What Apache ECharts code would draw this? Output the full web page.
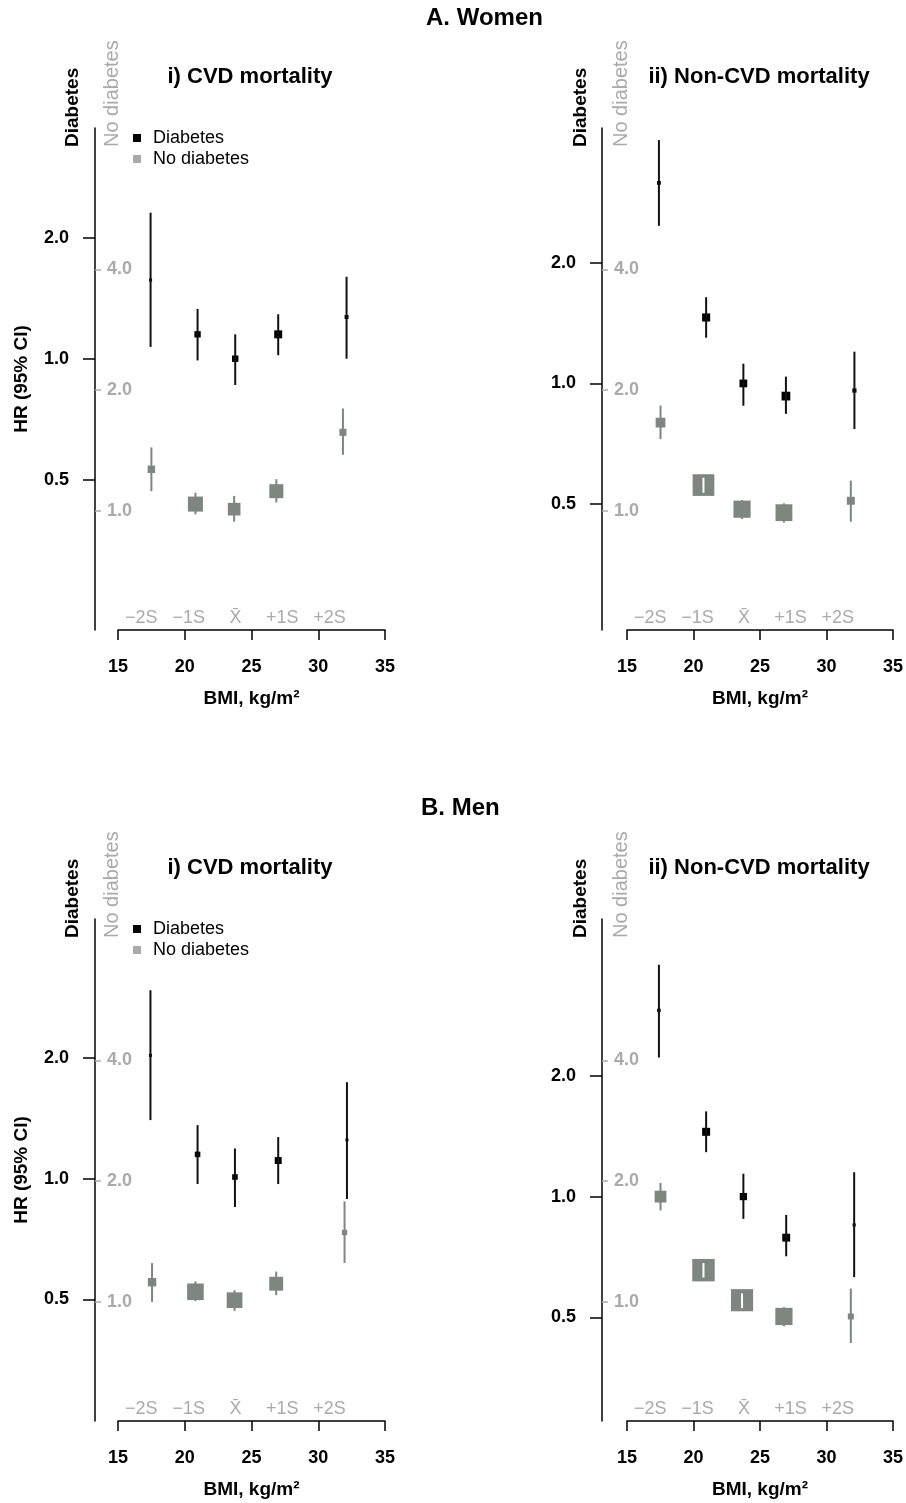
<!DOCTYPE html>
<html>
<head>
<meta charset="utf-8">
<title>BMI and cause-specific mortality by diabetes status</title>
<script src="https://cdn.jsdelivr.net/npm/echarts@6/dist/echarts.min.js"></script>
<style>
  html, body { margin: 0; padding: 0; background: #fff; }
  #chart { width: 906px; height: 1503px; }
</style>
</head>
<body>
<div id="chart"></div>
<script>
// rows: [BMI, HR, lower 95% CI, upper 95% CI]
const womenCvdDiabetes = [[17.44, 1.57, 1.07, 2.31], [20.96, 1.15, 0.99, 1.33], [23.78, 1.00, 0.86, 1.15], [27.0, 1.15, 1.02, 1.29], [32.12, 1.27, 1.00, 1.60]];
const womenCvdNoDiabetes = [[17.5, 1.27, 1.12, 1.44], [20.8, 1.04, 0.98, 1.11], [23.7, 1.01, 0.94, 1.09], [26.86, 1.12, 1.05, 1.20], [31.85, 1.57, 1.38, 1.80]];
const womenNonCvdDiabetes = [[17.4, 3.16, 2.47, 4.04], [20.95, 1.46, 1.30, 1.64], [23.75, 1.00, 0.88, 1.12], [26.95, 0.93, 0.84, 1.04], [32.1, 0.96, 0.77, 1.20]];
const womenNonCvdNoDiabetes = [[17.52, 1.66, 1.51, 1.83], [20.75, 1.16, 1.11, 1.21], [23.65, 1.01, 0.955, 1.065], [26.8, 0.99, 0.935, 1.045], [31.83, 1.06, 0.94, 1.19]];
const menCvdDiabetes = [[17.43, 2.03, 1.40, 2.95], [20.96, 1.15, 0.97, 1.36], [23.76, 1.01, 0.85, 1.19], [27.0, 1.11, 0.97, 1.27], [32.15, 1.25, 0.89, 1.74]];
const menCvdNoDiabetes = [[17.55, 1.12, 1.00, 1.25], [20.8, 1.06, 1.005, 1.125], [23.73, 1.01, 0.95, 1.07], [26.85, 1.11, 1.04, 1.19], [31.97, 1.49, 1.25, 1.78]];
const menNonCvdDiabetes = [[17.4, 2.91, 2.22, 3.78], [20.95, 1.45, 1.29, 1.63], [23.75, 1.00, 0.88, 1.14], [26.97, 0.79, 0.71, 0.90], [32.08, 0.85, 0.63, 1.15]];
const menNonCvdNoDiabetes = [[17.52, 1.83, 1.69, 1.98], [20.75, 1.20, 1.15, 1.25], [23.65, 1.01, 0.965, 1.05], [26.8, 0.92, 0.87, 0.97], [31.83, 0.92, 0.79, 1.08]];

const hrTicks = [0.5, 1.0, 2.0];
const noDiabTicks = [1.0, 2.0, 4.0];
const sdLabels = ['\u22122S', '\u22121S', 'X\u0304', '+1S', '+2S'];
const sdPositions = [16.75, 20.3, 23.8, 27.3, 30.85];

const FONT = 'Liberation Sans, Arial, sans-serif';
const BLACK = '#000000';
const GREY = '#7f8682';
const LIGHT = '#aaaaaa';
const BOX_K = 2.7; // box side (px) * log2 CI width

const panels = [
  {left: 118, top: 128, width: 267, offset: 23, hrRange: [0.211, 3.755], diab: womenCvdDiabetes, noDiab: womenCvdNoDiabetes, yName: true},
  {left: 627, top: 128, width: 266, offset: 25, hrRange: [0.243, 4.33], diab: womenNonCvdDiabetes, noDiab: womenNonCvdNoDiabetes, yName: false},
  {left: 118, top: 919, width: 267, offset: 23, hrRange: [0.249, 4.44], diab: menCvdDiabetes, noDiab: menCvdNoDiabetes, yName: true},
  {left: 627, top: 919, width: 266, offset: 25, hrRange: [0.276, 4.915], diab: menNonCvdDiabetes, noDiab: menNonCvdNoDiabetes, yName: false}
];
const noDiabRange = [0.505, 9.0];
const PANEL_H = 502;

const log2 = Math.log2;
const toLog = rows => rows.map(r => [r[0], log2(r[1]), log2(r[2]), log2(r[3])]);

function ciRenderer(color, lineColor) {
  return function (params, api) {
    const x = api.value(0);
    const lo = api.value(2), hi = api.value(3);
    const p = api.coord([x, api.value(1)]);
    const pLo = api.coord([x, lo]);
    const pHi = api.coord([x, hi]);
    const s = Math.max(3, BOX_K / (hi - lo));
    const inside = (pLo[1] - pHi[1]) < s;
    return {
      type: 'group',
      children: [
        {type: 'rect', shape: {x: p[0] - s / 2, y: p[1] - s / 2, width: s, height: s}, style: {fill: color}},
        {type: 'line', shape: {x1: p[0], y1: pHi[1], x2: p[0], y2: pLo[1]},
          style: {stroke: inside ? '#ffffff' : lineColor, lineWidth: 2}}
      ]
    };
  };
}

const grid = [], xAxis = [], yAxis = [], series = [];
panels.forEach((pn, i) => {
  grid.push({left: pn.left, top: pn.top, width: pn.width, height: PANEL_H});
  xAxis.push({
    gridIndex: i, type: 'value', min: 15, max: 35, interval: 5,
    axisLine: {onZero: false, lineStyle: {color: BLACK, width: 1.5}},
    axisTick: {length: 10, lineStyle: {color: BLACK, width: 1.5}},
    axisLabel: {color: BLACK, fontWeight: 'bold', fontSize: 18, fontFamily: FONT, margin: 28},
    splitLine: {show: false},
    name: 'BMI, kg/m\u00b2', nameLocation: 'middle', nameGap: 59,
    nameTextStyle: {color: BLACK, fontWeight: 'bold', fontSize: 19, fontFamily: FONT}
  });
  xAxis.push({
    gridIndex: i, type: 'value', min: 15, max: 35, position: 'bottom',
    axisLine: {show: false, onZero: false}, axisTick: {show: false}, splitLine: {show: false},
    axisLabel: {
      inside: true, margin: 3, color: LIGHT, fontSize: 18, fontFamily: FONT,
      customValues: sdPositions,
      formatter: v => {
        let k = 0;
        sdPositions.forEach((s, j) => { if (Math.abs(s - v) < Math.abs(sdPositions[k] - v)) k = j; });
        return sdLabels[k];
      }
    }
  });
  yAxis.push({
    gridIndex: i, type: 'value', position: 'left', offset: pn.offset,
    min: log2(pn.hrRange[0]), max: log2(pn.hrRange[1]),
    axisLine: {show: true, onZero: false, lineStyle: {color: BLACK, width: 1.5}},
    axisTick: {show: true, length: 12, customValues: hrTicks.map(log2), lineStyle: {color: BLACK, width: 1.5}},
    axisLabel: {customValues: hrTicks.map(log2), margin: 26, color: BLACK, fontWeight: 'bold', fontSize: 18, fontFamily: FONT,
      formatter: v => Math.pow(2, v).toFixed(1)},
    splitLine: {show: false},
    name: pn.yName ? 'HR (95% CI)' : '', nameLocation: 'middle', nameGap: 64,
    nameTextStyle: {color: BLACK, fontWeight: 'bold', fontSize: 19, fontFamily: FONT}
  });
  yAxis.push({
    gridIndex: i, type: 'value', position: 'left', offset: pn.offset,
    min: log2(noDiabRange[0]), max: log2(noDiabRange[1]),
    axisLine: {show: false, onZero: false},
    axisTick: {show: true, inside: true, length: 6, customValues: noDiabTicks.map(log2), lineStyle: {color: LIGHT, width: 1.5}},
    axisLabel: {inside: true, customValues: noDiabTicks.map(log2), margin: 12, color: LIGHT, fontWeight: 'bold', fontSize: 18, fontFamily: FONT,
      formatter: v => Math.pow(2, v).toFixed(1)},
    splitLine: {show: false}
  });
  series.push({
    name: 'No diabetes', type: 'custom', xAxisIndex: 2 * i, yAxisIndex: 2 * i + 1,
    itemStyle: {color: LIGHT},
    renderItem: ciRenderer(GREY, GREY), encode: {x: 0, y: [1, 2, 3]},
    data: toLog(pn.noDiab)
  });
  series.push({
    name: 'Diabetes', type: 'custom', xAxisIndex: 2 * i, yAxisIndex: 2 * i,
    itemStyle: {color: BLACK},
    renderItem: ciRenderer(BLACK, '#111111'), encode: {x: 0, y: [1, 2, 3]},
    data: toLog(pn.diab)
  });
});

function legendAt(top) {
  return {
    left: 128, top: top, orient: 'vertical', icon: 'rect', itemWidth: 8, itemHeight: 8, itemGap: 3,
    selectedMode: false,
    textStyle: {color: BLACK, fontSize: 18, fontFamily: FONT, lineHeight: 18, padding: [0, 0, 0, 7]},
    data: [{name: 'Diabetes', itemStyle: {color: BLACK}}, {name: 'No diabetes', itemStyle: {color: LIGHT}}]
  };
}

function txt(x, y, text, opts) {
  return {
    type: 'text', x: x, y: y, rotation: opts.rotation || 0, silent: true,
    style: {text: text, fill: opts.color || BLACK, fontSize: opts.size, fontWeight: opts.bold ? 'bold' : 'normal',
      fontFamily: FONT, align: opts.align || 'center', verticalAlign: 'middle'}
  };
}

const graphic = [
  txt(426, 18, 'A. Women', {size: 24, bold: true, align: 'left'}),
  txt(421, 808, 'B. Men', {size: 24, bold: true, align: 'left'}),
  txt(250, 77, 'i) CVD mortality', {size: 22, bold: true}),
  txt(759, 77, 'ii) Non-CVD mortality', {size: 22, bold: true}),
  txt(250, 868, 'i) CVD mortality', {size: 22, bold: true}),
  txt(759, 868, 'ii) Non-CVD mortality', {size: 22, bold: true})
];
[[72.5, 112, 147], [581, 621, 147], [72.5, 112, 938], [581, 621, 938]].forEach(([xd, xn, yb]) => {
  graphic.push(txt(xd, yb, 'Diabetes', {size: 19, bold: true, align: 'left', rotation: Math.PI / 2}));
  graphic.push(txt(xn, yb, 'No diabetes', {size: 20, color: LIGHT, align: 'left', rotation: Math.PI / 2}));
});

const chart = echarts.init(document.getElementById('chart'), null, {renderer: 'canvas'});
chart.setOption({
  animation: false,
  backgroundColor: '#ffffff',
  textStyle: {fontFamily: FONT},
  grid: grid,
  xAxis: xAxis,
  yAxis: yAxis,
  legend: [legendAt(124), legendAt(915)],
  graphic: graphic,
  series: series
});
</script>
</body>
</html>
